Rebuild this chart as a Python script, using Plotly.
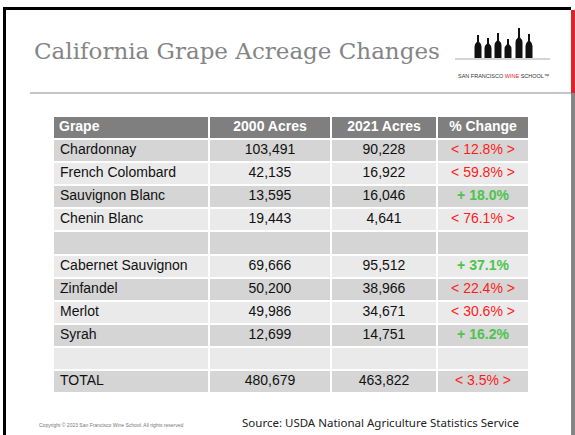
import plotly.graph_objects as go

# ---------------- data ----------------
grapes = ["Chardonnay", "French Colombard", "Sauvignon Blanc", "Chenin Blanc", "",
          "Cabernet Sauvignon", "Zinfandel", "Merlot", "Syrah", "", "TOTAL"]
acres_2000 = [103491, 42135, 13595, 19443, None, 69666, 50200, 49986, 12699, None, 480679]
acres_2021 = [90228, 16922, 16046, 4641, None, 95512, 38966, 34671, 14751, None, 463822]
pct_change = [-12.8, -59.8, 18.0, -76.1, None, 37.1, -22.4, -30.6, 16.2, None, -3.5]
headers = ["Grape", "2000 Acres", "2021 Acres", "% Change"]

title_text = "California Grape Acreage Changes"
source_text = "Source: USDA National Agriculture Statistics Service"
copyright_text = "Copyright © 2023 San Francisco Wine School. All rights reserved"
logo_text = "SAN FRANCISCO <span style='color:#d9262c'>WINE</span> SCHOOL™"

# logo bottles: (center x, top y) in page pixels
bottle_x = [478, 488, 498, 508, 519, 529]
bottle_top = [35, 38, 33, 39, 28, 34]

# ---------------- style ----------------
W, H = 575, 435
RED = "#ff1a1a"
GREEN = "#4cc44c"
DARK = "#d5d5d5"
LIGHT = "#eaeaea"
HEAD = "#7f7f7f"
TXT = "#111111"
FONT = "Liberation Sans, Arial, sans-serif"
col_widths = [156, 122, 106, 92]
TABLE_L, TABLE_R, TABLE_T, TABLE_B = 53, 529, 116, 393


def fmt_num(v):
    return "" if v is None else f"{v:,}"


def fmt_pct(v):
    if v is None:
        return ""
    return f"<b>+ {v:.1f}%</b>" if v >= 0 else f"< {abs(v):.1f}% >"


n = len(grapes)
rows = list(range(1, n + 1))           # body rows; header is row 0
col2000 = [fmt_num(v) for v in acres_2000]
col2021 = [fmt_num(v) for v in acres_2021]
colpct = [fmt_pct(v) for v in pct_change]
pct_colors = [(TXT if v is None else (GREEN if v >= 0 else RED)) for v in pct_change]

edges = [0]
for w in col_widths:
    edges.append(edges[-1] + w)
centers = [(edges[i] + edges[i + 1]) / 2 for i in range(4)]

fig = go.Figure()

# invisible scatter to establish page-pixel axes for decoration
fig.add_trace(go.Scatter(x=[0, W], y=[0, H], mode="markers", xaxis="x", yaxis="y",
                         marker=dict(opacity=0), hoverinfo="skip", showlegend=False))

# cell backgrounds: header = 2, dark = 0, light = 1
z = [[2] * 4] + [[(0 if (r - 1) % 2 == 0 else 1)] * 4 for r in rows]
fig.add_trace(go.Heatmap(
    x=edges, y=[0] + rows, z=z, zmin=0, zmax=2,
    colorscale=[[0, DARK], [0.33, DARK], [0.33, LIGHT], [0.66, LIGHT], [0.66, HEAD], [1, HEAD]],
    showscale=False, xgap=2, ygap=2, hoverinfo="skip", xaxis="x2", yaxis="y2",
))

# header text
fig.add_trace(go.Scatter(
    x=[6] + centers[1:], y=[0] * 4, mode="text",
    text=[f"<b>{h}</b>" for h in headers],
    textposition=["middle right", "middle center", "middle center", "middle center"],
    textfont=dict(family=FONT, size=14, color="white"),
    hoverinfo="skip", showlegend=False, xaxis="x2", yaxis="y2",
))
# body text
fig.add_trace(go.Scatter(
    x=[7] * n, y=rows, mode="text", text=grapes, textposition="middle right",
    textfont=dict(family=FONT, size=14, color=TXT),
    hoverinfo="skip", showlegend=False, xaxis="x2", yaxis="y2",
))
for ci, (vals, cols) in enumerate([(col2000, [TXT] * n), (col2021, [TXT] * n), (colpct, pct_colors)]):
    fig.add_trace(go.Scatter(
        x=[centers[ci + 1]] * n, y=rows, mode="text", text=vals, textposition="middle center",
        textfont=dict(family=FONT, size=14, color=cols),
        hoverinfo="skip", showlegend=False, xaxis="x2", yaxis="y2",
    ))

shapes = []
# black frame (top and left)
shapes.append(dict(type="rect", x0=3, x1=571, y0=7, y1=10, fillcolor="black", line=dict(width=0)))
shapes.append(dict(type="rect", x0=3, x1=6, y0=7, y1=H, fillcolor="black", line=dict(width=0)))
# right side bars
shapes.append(dict(type="rect", x0=571, x1=W, y0=10, y1=93, fillcolor="#d9262c", line=dict(width=0)))
shapes.append(dict(type="rect", x0=571, x1=W, y0=93, y1=H, fillcolor="#858585", line=dict(width=0)))
# separator line under title
shapes.append(dict(type="line", x0=30, x1=571, y0=93, y1=93, line=dict(color="#b3b3b3", width=1.5)))
# logo line
shapes.append(dict(type="line", x0=455, x1=550, y0=59, y1=59, line=dict(color="#aaaaaa", width=1)))
# bottles
for cx, top in zip(bottle_x, bottle_top):
    hw, nw = 3.5, 1.0
    shoulder = top + (58 - top) * 0.38
    path = (f"M {cx-hw},58 L {cx-hw},{shoulder+3} Q {cx-hw},{shoulder} {cx-nw},{shoulder-2} "
            f"L {cx-nw},{top} L {cx+nw},{top} L {cx+nw},{shoulder-2} "
            f"Q {cx+hw},{shoulder} {cx+hw},{shoulder+3} L {cx+hw},58 Z")
    shapes.append(dict(type="path", path=path, fillcolor="#111111", line=dict(width=0)))

annotations = [
    dict(x=32, y=51, text=title_text, showarrow=False, xanchor="left", yanchor="middle",
         font=dict(family="DejaVu Serif", size=23, color="#858585")),
    dict(x=503, y=76, text=logo_text, showarrow=False, xanchor="center", yanchor="middle",
         font=dict(family=FONT, size=5.5, color="#333333")),
    dict(x=240, y=422, text=source_text, showarrow=False, xanchor="left", yanchor="middle",
         font=dict(family="Noto Sans", size=11.5, color="#222222")),
    dict(x=37, y=425, text=copyright_text, showarrow=False, xanchor="left", yanchor="middle",
         font=dict(family=FONT, size=5, color="#777777")),
]
for a in annotations:
    a.update(xref="x", yref="y")

fig.update_layout(
    width=W, height=H,
    margin=dict(l=0, r=0, t=0, b=0),
    paper_bgcolor="white", plot_bgcolor="white",
    xaxis=dict(range=[0, W], visible=False, domain=[0, 1], fixedrange=True),
    yaxis=dict(range=[H, 0], visible=False, domain=[0, 1], fixedrange=True),
    xaxis2=dict(range=[0, edges[-1]], visible=False, fixedrange=True,
                domain=[TABLE_L / W, TABLE_R / W], anchor="y2"),
    yaxis2=dict(range=[n + 0.5, -0.5], visible=False, fixedrange=True,
                domain=[1 - TABLE_B / H, 1 - TABLE_T / H], anchor="x2"),
    shapes=shapes,
    annotations=annotations,
    showlegend=False,
)

fig.write_html("out.html", config={"displayModeBar": False},
               post_script="document.body.style.margin='0';document.body.style.overflow='hidden';")
